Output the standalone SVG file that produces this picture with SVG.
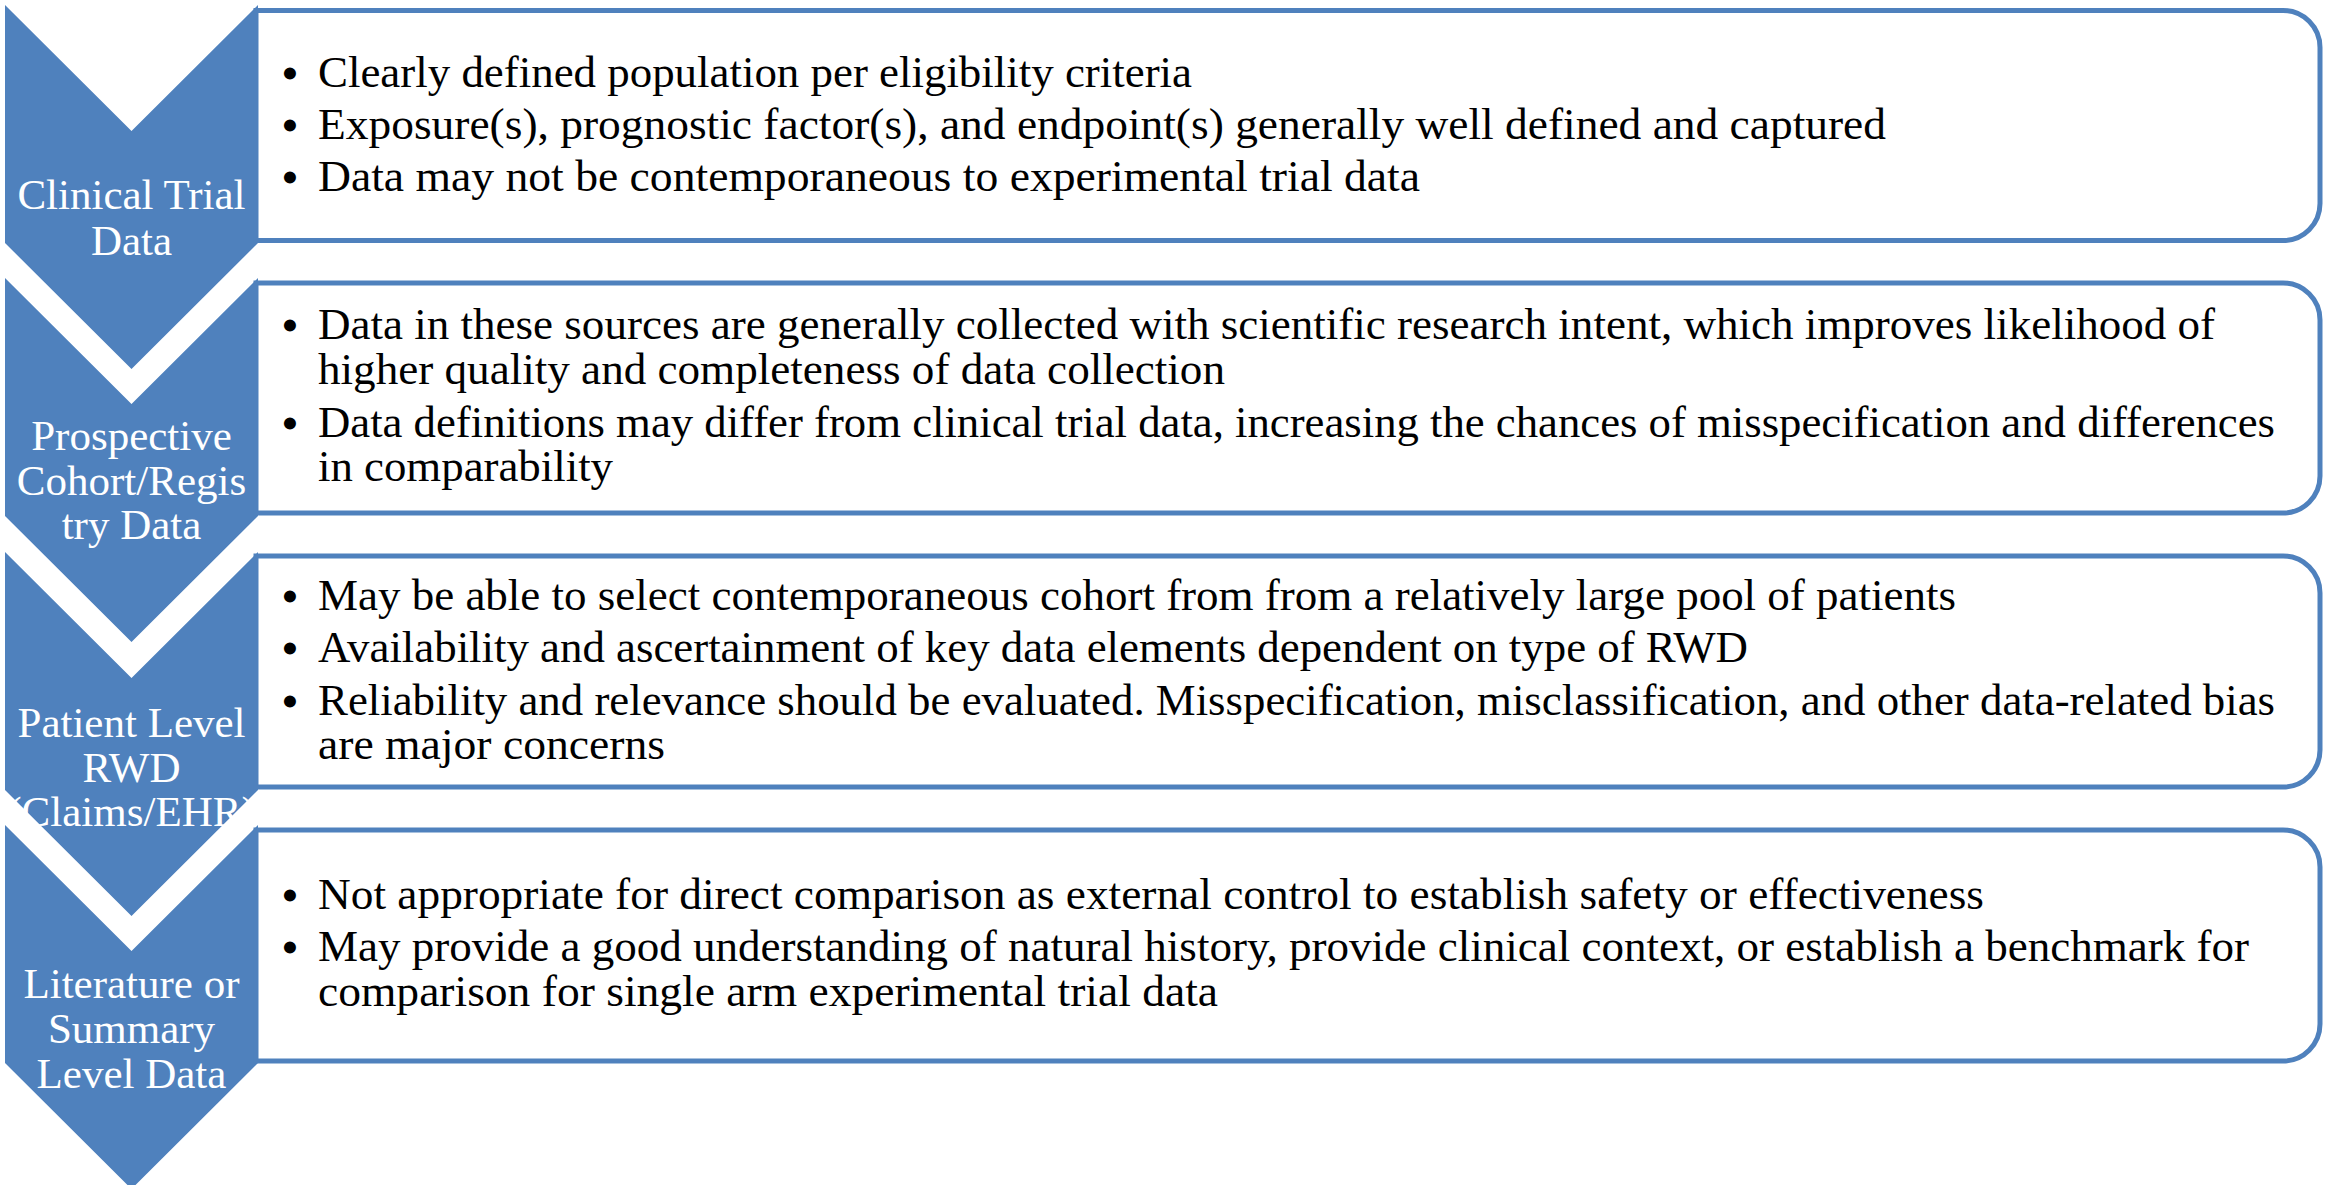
<svg xmlns="http://www.w3.org/2000/svg" width="2326" height="1185" viewBox="0 0 2326 1185">
<style>
.chev{fill:#4F81BD;stroke:none}
.box{fill:#FFFFFF;stroke:#4F81BD;stroke-width:5}
.lbl{font-family:"Liberation Serif",serif;font-size:43px;fill:#FFFFFF;text-anchor:middle}
.txt{font-family:"Liberation Serif",serif;font-size:44px;fill:#000000}
.bul{font-family:"Liberation Serif",serif;font-size:44px;font-weight:bold;fill:#000000;text-anchor:middle}
</style>
<rect width="2326" height="1185" fill="#FFFFFF"/>
<g id="connectors"></g>

<g id="node1">
<polygon class="chev" points="5,5 131.5,131 258,5 258,243 131.5,369 5,243"/>
<text class="lbl"><tspan x="131.5" y="209">Clinical Trial</tspan><tspan x="131.5" y="255">Data</tspan></text>
<path class="box" d="M256,10.5 H2283 A37,37 0 0 1 2320,47.5 V203.5 A37,37 0 0 1 2283,240.5 H256 Z"/>
<text class="bul" x="290" y="88">•</text>
<text class="txt" x="318" y="87" textLength="874" lengthAdjust="spacingAndGlyphs">Clearly defined population per eligibility criteria</text>
<text class="bul" x="290" y="140">•</text>
<text class="txt" x="318" y="139" textLength="1568" lengthAdjust="spacingAndGlyphs">Exposure(s), prognostic factor(s), and endpoint(s) generally well defined and captured</text>
<text class="bul" x="290" y="192">•</text>
<text class="txt" x="318" y="191" textLength="1102" lengthAdjust="spacingAndGlyphs">Data may not be contemporaneous to experimental trial data</text>
</g>

<g id="node2">
<polygon class="chev" points="5,278 131.5,404 258,278 258,516 131.5,642 5,516"/>
<text class="lbl"><tspan x="131.5" y="450">Prospective</tspan><tspan x="131.5" y="495">Cohort/Regis</tspan><tspan x="131.5" y="539">try Data</tspan></text>
<path class="box" d="M256,283 H2283 A37,37 0 0 1 2320,320 V476 A37,37 0 0 1 2283,513 H256 Z"/>
<text class="bul" x="290" y="340">•</text>
<text class="txt" x="318" y="339" textLength="1897" lengthAdjust="spacingAndGlyphs">Data in these sources are generally collected with scientific research intent, which improves likelihood of</text>
<text class="txt" x="318" y="384" textLength="907" lengthAdjust="spacingAndGlyphs">higher quality and completeness of data collection</text>
<text class="bul" x="290" y="438">•</text>
<text class="txt" x="318" y="437" textLength="1957" lengthAdjust="spacingAndGlyphs">Data definitions may differ from clinical trial data, increasing the chances of misspecification and differences</text>
<text class="txt" x="318" y="481" textLength="295" lengthAdjust="spacingAndGlyphs">in comparability</text>
</g>

<g id="node3">
<polygon class="chev" points="5,552 131.5,678 258,552 258,790 131.5,916 5,790"/>
<text class="lbl"><tspan x="131.5" y="737">Patient Level</tspan><tspan x="131.5" y="782">RWD</tspan><tspan x="131.5" y="826">(Claims/EHR)</tspan></text>
<path class="box" d="M256,556 H2283 A37,37 0 0 1 2320,593 V750 A37,37 0 0 1 2283,787 H256 Z"/>
<text class="bul" x="290" y="611">•</text>
<text class="txt" x="318" y="610" textLength="1638" lengthAdjust="spacingAndGlyphs">May be able to select contemporaneous cohort from from a relatively large pool of patients</text>
<text class="bul" x="290" y="663">•</text>
<text class="txt" x="318" y="662" textLength="1430" lengthAdjust="spacingAndGlyphs">Availability and ascertainment of key data elements dependent on type of RWD</text>
<text class="bul" x="290" y="716">•</text>
<text class="txt" x="318" y="715" textLength="1957" lengthAdjust="spacingAndGlyphs">Reliability and relevance should be evaluated. Misspecification, misclassification, and other data-related bias</text>
<text class="txt" x="318" y="759" textLength="347" lengthAdjust="spacingAndGlyphs">are major concerns</text>
</g>

<g id="node4">
<polygon class="chev" points="5,825 131.5,951 258,825 258,1063 131.5,1189 5,1063"/>
<text class="lbl"><tspan x="131.5" y="998">Literature or</tspan><tspan x="131.5" y="1043">Summary</tspan><tspan x="131.5" y="1088">Level Data</tspan></text>
<path class="box" d="M256,830 H2283 A37,37 0 0 1 2320,867 V1024 A37,37 0 0 1 2283,1061 H256 Z"/>
<text class="bul" x="290" y="910">•</text>
<text class="txt" x="318" y="909" textLength="1666" lengthAdjust="spacingAndGlyphs">Not appropriate for direct comparison as external control to establish safety or effectiveness</text>
<text class="bul" x="290" y="962">•</text>
<text class="txt" x="318" y="961" textLength="1931" lengthAdjust="spacingAndGlyphs">May provide a good understanding of natural history, provide clinical context, or establish a benchmark for</text>
<text class="txt" x="318" y="1006" textLength="900" lengthAdjust="spacingAndGlyphs">comparison for single arm experimental trial data</text>
</g>
</svg>
